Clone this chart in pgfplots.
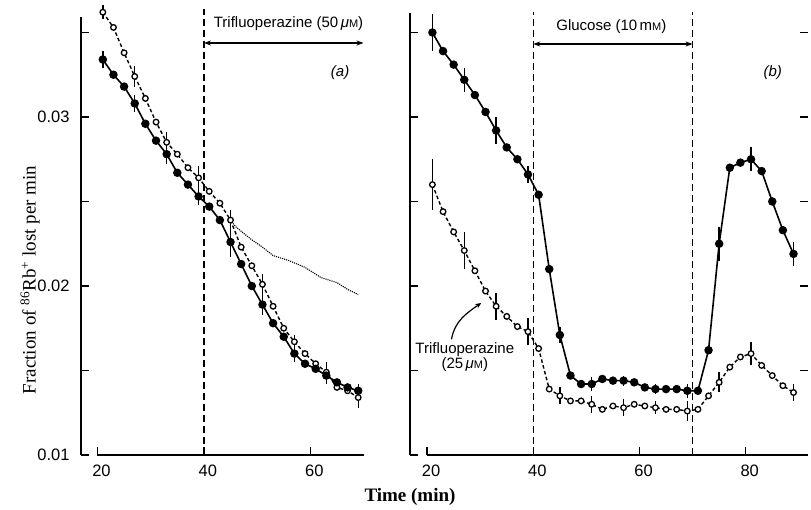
\documentclass[border=0pt]{standalone}
\usepackage{fontspec}
\setmainfont{Liberation Serif}
\setsansfont{Liberation Sans}
\usepackage{pgfplots}
\usepackage{pgfplotstable}
\pgfplotsset{compat=1.18}
\usetikzlibrary{arrows.meta}

\pgfplotstableread{
x y e
21 0.0334 0.0005
23 0.0325 0
25 0.0318 0
27 0.0308 0.0005
29 0.0296 0
31 0.0286 0
33 0.0278 0.0006
35 0.0267 0
37 0.0260 0
39 0.0253 0.0005
41 0.0247 0
43 0.0239 0
45 0.0226 0.0009
47 0.0213 0
49 0.0200 0
51 0.0189 0.0006
53 0.0178 0
55 0.0170 0
57 0.0160 0.0005
59 0.0154 0
61 0.0151 0
63 0.0147 0.0005
65 0.0143 0
67 0.0140 0
69 0.0138 0.0004
}\afilled

\pgfplotstableread{
x y e
21 0.0362 0.0004
23 0.0353 0
25 0.0338 0
27 0.0324 0.0006
29 0.0311 0
31 0.0297 0
33 0.0285 0.0006
35 0.0278 0
37 0.0270 0
39 0.0264 0.0007
41 0.0256 0
43 0.0249 0
45 0.0239 0.0006
47 0.0223 0
49 0.0212 0
51 0.0201 0.0006
53 0.0188 0
55 0.0175 0
57 0.0167 0.0004
59 0.0160 0
61 0.0154 0
63 0.0149 0.0006
65 0.0140 0
67 0.0138 0
69 0.0134 0.0006
}\aopen

\pgfplotstableread{
x y
45 0.0239
46 0.0235
48.7 0.0228
51 0.0223
53 0.0218
56 0.0215
59 0.0211
62 0.0205
65 0.0202
67 0.0198
69 0.0195
}\adotted

\pgfplotstableread{
x y e
21 0.0350 0.0011
23 0.0339 0
25 0.0331 0
27 0.0322 0.0007
29 0.0313 0
31 0.0303 0
33 0.0292 0.0008
35 0.0282 0
37 0.0275 0
39 0.0266 0.0005
41 0.0254 0
43 0.0210 0
45 0.0171 0.0005
47 0.0147 0
49 0.0142 0
51 0.0142 0.0004
53 0.0145 0
55 0.0144 0
57 0.0144 0.0003
59 0.0143 0
61 0.0140 0
63 0.0139 0.0003
65 0.0139 0
67 0.0139 0
69 0.0138 0.0004
71 0.0138 0
73 0.0162 0
75 0.0225 0.0010
77 0.0270 0
79 0.0273 0
81 0.0275 0.0007
83 0.0268 0
85 0.0250 0
87 0.0233 0
89 0.0219 0.0007
}\bfilled

\pgfplotstableread{
x y e
21 0.0260 0.0015
23 0.0244 0
25 0.0232 0
27 0.0221 0.0011
29 0.0209 0
31 0.0197 0
33 0.0188 0.0008
35 0.0182 0
37 0.0176 0
39 0.0173 0.0008
41 0.0163 0
43 0.0139 0
45 0.0135 0.0005
47 0.0132 0
49 0.0132 0
51 0.0130 0.0005
53 0.0127 0
55 0.0129 0
57 0.0128 0.0005
59 0.0130 0
61 0.0129 0
63 0.0128 0.0004
65 0.0127 0
67 0.0127 0
69 0.0126 0.0006
71 0.0127 0
73 0.0135 0
75 0.0143 0.0006
77 0.0152 0
79 0.0158 0
81 0.0160 0.0007
83 0.0153 0
85 0.0147 0
87 0.0141 0
89 0.0137 0.0005
}\bopen

\pgfplotsset{
  panel/.style={
    scale only axis, clip=false,
    axis line style={draw=none},
    height=447pt,
    ymin=0.01, ymax=0.03645,
    ytick={0.01,0.015,0.02,0.025,0.03,0.035},
    tick style={black, line width=1.3pt},
    major tick length=8pt,
    tick align=inside,
    xtick pos=left,
    ticklabel style={font=\sffamily\fontsize{16.5}{16.5}\selectfont},
    xticklabel style={yshift=-6pt, xshift=4pt},
    yticklabel style={xshift=-8pt},
  },
  filled/.style={black, line width=1.6pt, mark=*, mark size=3.4pt,
    mark options={solid, fill=black},
    error bars/.cd, y dir=both, y explicit, error mark=none,
    error bar style={line width=1.4pt, solid}},
  open/.style={black, line width=1.4pt, dash pattern=on 3.5pt off 2.5pt,
    mark=*, mark size=2.8pt, mark options={solid, fill=white, line width=1.3pt},
    error bars/.cd, y dir=both, y explicit, error mark=none,
    error bar style={line width=1.4pt, solid}},
}
\tikzset{vdash/.style={line width=1.5pt, dash pattern=on 7pt off 4pt}}

\newcommand{\uM}{\textit{μ}{\fontsize{11}{11}\selectfont M}}
\newcommand{\annfont}{\sffamily\fontsize{15}{15}\selectfont}

\begin{document}
\begin{tikzpicture}
\useasboundingbox (0,0) rectangle (811pt,509pt);

% ---------- panel (a) ----------
\begin{axis}[panel,
  at={(81pt,54pt)}, anchor=south west,
  width=290pt, xmin=16.9, xmax=71.4,
  ytick pos=left,
  xtick={20,40,60}, xticklabels={20,40,60},
  yticklabels={0.01,{},0.02,{},0.03,{}},
]
\draw[line width=1.4pt] (rel axis cs:0,0.98) -- (rel axis cs:0,0);
\draw[line width=1.4pt] (axis cs:20,0.01) -- (axis cs:70,0.01);
\draw[vdash] (axis cs:40,0.01) -- (axis cs:40,0.0364);
\draw[{Stealth[length=7pt,width=5pt]}-{Stealth[length=7pt,width=5pt]}, line width=1.2pt]
  (axis cs:40,0.03438) -- (axis cs:70,0.03438);
\node[anchor=west, font=\annfont] at (axis cs:41.2,0.03555) {Trifluoperazine (50\,\uM)};
\node[font=\annfont\itshape] at (axis cs:65.6,0.0326) {(a)};

\addplot[black, line width=1.1pt, densely dotted] table[x=x,y=y] {\adotted};
\addplot[open] table[x=x,y=y,y error=e] {\aopen};
\addplot[filled] table[x=x,y=y,y error=e] {\afilled};
\end{axis}

% ---------- panel (b) ----------
\begin{axis}[panel,
  at={(410pt,54pt)}, anchor=south west,
  width=398pt, xmin=16.78, xmax=91.73,
  ytick pos=both,
  xtick={20,40,60,80}, xticklabels={20,40,60,80},
  yticklabels={},
]
\draw[line width=1.4pt] (axis cs:16.78,0.03615) -- (rel axis cs:0,0);
\draw[line width=1.4pt] (axis cs:20,0.01) -- (axis cs:90.2,0.01);
\draw[vdash] (axis cs:40,0.01) -- (axis cs:40,0.0362);
\draw[vdash] (axis cs:70,0.01) -- (axis cs:70,0.0362);
\draw[{Stealth[length=7pt,width=5pt]}-{Stealth[length=7pt,width=5pt]}, line width=1.2pt]
  (axis cs:40,0.03432) -- (axis cs:70,0.03432);
\node[font=\annfont] at (axis cs:54.7,0.03535) {Glucose (10\,m{\fontsize{11}{11}\selectfont M})};
\node[font=\annfont\itshape] at (axis cs:85.1,0.0326) {(b)};
\node[font=\annfont, align=center] at (axis cs:27.1,0.0158) {Trifluoperazine\\(25\,\uM)};
\draw[-{Stealth[length=6pt,width=5pt]}, line width=1.2pt]
  (axis cs:24.6,0.01685) to[out=80,in=215] (axis cs:30.2,0.0190);

\addplot[open] table[x=x,y=y,y error=e] {\bopen};
\addplot[filled] table[x=x,y=y,y error=e] {\bfilled};
\end{axis}

\node[rotate=90, font=\fontsize{19}{19}\selectfont] at (30pt,229pt)
  {Fraction of \textsuperscript{86}Rb\textsuperscript{+} lost per min};
\node[font=\bfseries\fontsize{19}{19}\selectfont] at (410pt,12pt) {Time (min)};
\end{tikzpicture}
\end{document}
